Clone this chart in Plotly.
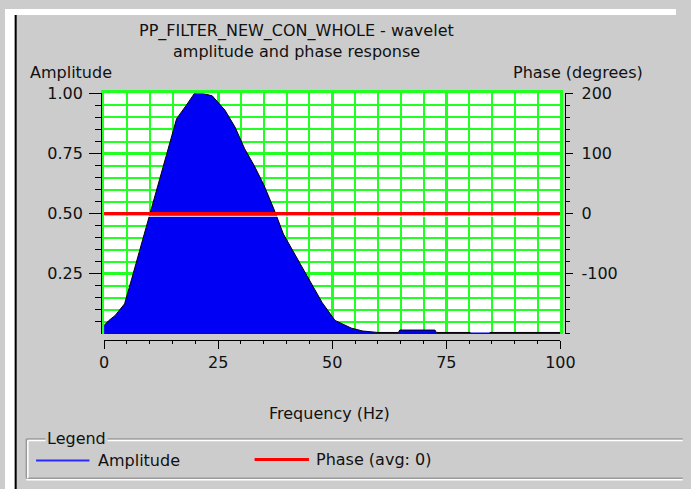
import plotly.graph_objects as go

# Amplitude spectrum of the wavelet (normalised), frequency in Hz
freq_hz = [0, 1.0, 2.4, 4.5, 6.0, 7.4, 8.6, 9.9, 12.3, 14.5, 15.9, 18.0, 19.8,
           21.6, 23.7, 26.5, 28.7, 30.8, 32.9, 35.0, 37.2, 39.3, 41.8, 45.0,
           47.8, 50.6, 54.2, 56.7, 60.0, 64.5, 64.8, 72.5, 72.8, 80.3, 82.0,
           84.5, 100.0]
amplitude = [0.035, 0.055, 0.076, 0.125, 0.225, 0.32, 0.40, 0.495, 0.66, 0.81,
             0.895, 0.95, 1.0, 1.0, 0.99, 0.93, 0.86, 0.77, 0.70, 0.62, 0.52,
             0.415, 0.333, 0.225, 0.13, 0.056, 0.024, 0.012, 0.006, 0.006,
             0.016, 0.016, 0.006, 0.006, None, 0.006, 0.006]

# Phase response (degrees)
phase_freq = [0, 100]
phase_deg = [0, 0]

# Axis ticks
freq_ticks = [0, 25, 50, 75, 100]
amp_ticks = [0.25, 0.50, 0.75, 1.00]
amp_ticktext = ["0.25", "0.50", "0.75", "1.00"]
phase_ticks = [-100, 0, 100, 200]

W, H = 691, 489
BG = "#cccccc"
GRID = "#22ff22"
FONT = dict(family="DejaVu Sans", size=16, color="#111111")


def px(x):
    return x / W


def py(y):
    return 1 - y / H


x_dom = [px(102), px(572)]
y_dom = [py(331), py(86)]

fig = go.Figure()

fig.add_trace(go.Scatter(
    x=freq_hz, y=amplitude, mode="lines", fill="tozeroy",
    fillcolor="#0000f5", line=dict(color="#000000", width=1),
    connectgaps=False, xaxis="x", yaxis="y", showlegend=False,
    hoverinfo="skip",
))
fig.add_trace(go.Scatter(
    x=phase_freq, y=phase_deg, mode="lines",
    line=dict(color="#ff0000", width=3.5),
    xaxis="x", yaxis="y3", showlegend=False, hoverinfo="skip",
))
# empty trace so the offset tick axes get drawn
fig.add_trace(go.Scatter(x=[], y=[], xaxis="x2", yaxis="y2",
                         showlegend=False, hoverinfo="skip"))

minor_f = [f for f in range(5, 100, 5) if f % 25]
minor_a = [round(v * 0.05, 2) for v in range(1, 20) if v % 5]

fig.update_layout(
    width=W, height=H, margin=dict(l=0, r=0, t=0, b=0),
    paper_bgcolor=BG, plot_bgcolor="#ffffff",
    font=FONT, showlegend=False,
    xaxis=dict(
        domain=x_dom, range=[0, 100], side="top",
        tickmode="array", tickvals=freq_ticks, showticklabels=False,
        ticks="", showgrid=True, gridcolor=GRID, gridwidth=3,
        zeroline=False, showline=True, linecolor=GRID, linewidth=3,
        minor=dict(tickmode="array", tickvals=minor_f, showgrid=True,
                   gridcolor=GRID, gridwidth=2, ticks=""),
        fixedrange=True,
    ),
    yaxis=dict(
        domain=y_dom, range=[0, 1],
        tickmode="array", tickvals=amp_ticks, showticklabels=False,
        ticks="", showgrid=True, gridcolor=GRID, gridwidth=3,
        zeroline=False, showline=True, linecolor=GRID, linewidth=3,
        mirror=True,
        minor=dict(tickmode="array", tickvals=minor_a, showgrid=True,
                   gridcolor=GRID, gridwidth=2, ticks=""),
        fixedrange=True,
    ),
    xaxis2=dict(
        overlaying="x", anchor="free", position=py(337), side="bottom",
        domain=x_dom, range=[0, 100],
        tickmode="array", tickvals=freq_ticks,
        ticktext=[str(t) for t in freq_ticks],
        ticks="outside", ticklen=8, tickwidth=1, tickcolor="#000000",
        showline=True, linecolor="#000000", linewidth=1,
        showgrid=False, zeroline=False, tickfont=FONT,
        minor=dict(tickmode="array", tickvals=minor_f, ticks="outside",
                   ticklen=3, tickcolor="#000000", showgrid=False),
        fixedrange=True,
    ),
    yaxis2=dict(
        overlaying="y", anchor="free", position=px(99), side="left",
        range=[0, 1], tickmode="array", tickvals=amp_ticks,
        ticktext=amp_ticktext,
        ticks="outside", ticklen=12, tickwidth=1, tickcolor="#000000",
        showline=True, linecolor="#000000", linewidth=1,
        showgrid=False, zeroline=False, tickfont=FONT,
        ticklabelstandoff=3,
        minor=dict(tickmode="array", tickvals=minor_a, ticks="outside",
                   ticklen=6, tickcolor="#000000", showgrid=False),
        fixedrange=True,
    ),
    yaxis3=dict(
        overlaying="y", anchor="free", position=px(577), side="right",
        range=[-200, 200], tickmode="array", tickvals=phase_ticks,
        ticktext=[str(t) for t in phase_ticks],
        ticks="outside", ticklen=7, tickwidth=1, tickcolor="#000000",
        showline=True, linecolor="#000000", linewidth=1,
        showgrid=False, zeroline=False, tickfont=FONT,
        ticklabelstandoff=5,
        minor=dict(dtick=20, tick0=0, ticks="outside", ticklen=4,
                   tickcolor="#000000", showgrid=False),
        fixedrange=True,
    ),
)

shapes = [
    # window frame: white strips and dark left border
    dict(type="rect", xref="paper", yref="paper", x0=0, x1=1, y0=py(6), y1=1,
         fillcolor="#ffffff", line=dict(width=0), layer="below"),
    dict(type="rect", xref="paper", yref="paper", x0=0, x1=px(10), y0=0, y1=1,
         fillcolor="#ffffff", line=dict(width=0), layer="below"),
    dict(type="line", xref="paper", yref="paper", x0=px(11), x1=px(11),
         y0=0, y1=py(6), line=dict(color="#000000", width=2)),
    # thin white highlight under the phase line
    dict(type="line", xref="x", yref="y3", x0=0, x1=100,
         ysizemode="pixel", yanchor=0, y0=-2.6, y1=-2.6,
         line=dict(color="#ffffff", width=1.2)),
    # etched legend group box
    dict(type="line", xref="paper", yref="paper", x0=px(22), x1=1.01,
         y0=py(438), y1=py(438), line=dict(color="#999999", width=1.5)),
    dict(type="line", xref="paper", yref="paper", x0=px(23.5), x1=1.01,
         y0=py(439.6), y1=py(439.6), line=dict(color="#ffffff", width=1.5)),
    dict(type="line", xref="paper", yref="paper", x0=px(22), x1=1.01,
         y0=py(478), y1=py(478), line=dict(color="#999999", width=1.5)),
    dict(type="line", xref="paper", yref="paper", x0=px(22), x1=1.01,
         y0=py(479.6), y1=py(479.6), line=dict(color="#ffffff", width=1.5)),
    dict(type="line", xref="paper", yref="paper", x0=px(22), x1=px(22),
         y0=py(438), y1=py(478), line=dict(color="#999999", width=1.5)),
    dict(type="line", xref="paper", yref="paper", x0=px(23.5), x1=px(23.5),
         y0=py(439.6), y1=py(478), line=dict(color="#ffffff", width=1.5)),
    # legend swatches
    dict(type="line", xref="paper", yref="paper", x0=px(32), x1=px(87),
         y0=py(460), y1=py(460), line=dict(color="#2a2aff", width=2)),
    dict(type="line", xref="paper", yref="paper", x0=px(257), x1=px(313),
         y0=py(459), y1=py(459), line=dict(color="#ff0000", width=3)),
]

annotations = [
    dict(text="PP_FILTER_NEW_CON_WHOLE - wavelet", x=px(300), y=py(22),
         xanchor="center", yanchor="middle"),
    dict(text="amplitude and phase response", x=px(300), y=py(43),
         xanchor="center", yanchor="middle"),
    dict(text="Amplitude", x=px(24), y=py(65), xanchor="left",
         yanchor="middle"),
    dict(text="Phase (degrees)", x=px(659), y=py(65), xanchor="right",
         yanchor="middle"),
    dict(text="Frequency (Hz)", x=px(334), y=py(412), xanchor="center",
         yanchor="middle"),
    dict(text="Legend", x=px(41), y=py(438), xanchor="left",
         yanchor="middle", bgcolor=BG, borderpad=1),
    dict(text="Amplitude", x=px(94), y=py(460), xanchor="left",
         yanchor="middle"),
    dict(text="Phase (avg: 0)", x=px(318), y=py(459), xanchor="left",
         yanchor="middle"),
]
for a in annotations:
    a.update(xref="paper", yref="paper", showarrow=False, font=FONT)

fig.update_layout(shapes=shapes, annotations=annotations)

fig.write_html("out.html")
